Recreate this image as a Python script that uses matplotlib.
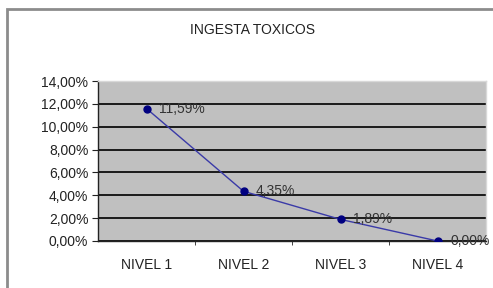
import matplotlib
matplotlib.use("Agg")
import matplotlib.pyplot as plt
from matplotlib.patches import Rectangle
from matplotlib.ticker import FuncFormatter, MultipleLocator

categories = ["NIVEL 1", "NIVEL 2", "NIVEL 3", "NIVEL 4"]
values = [11.59, 4.35, 1.89, 0.00]
labels = ["11,59%", "4,35%", "1,89%", "0,00%"]

plt.rcParams['font.family'] = ['Liberation Sans', 'DejaVu Sans']

fig = plt.figure(figsize=(4.93, 2.88), dpi=100)
fig.patch.set_facecolor('white')

# outer chart frame (runs past the right and bottom edges)
fig.patches.append(Rectangle((7 / 493, -0.05), 1.0, 1 - 9 / 288 + 0.05,
                             transform=fig.transFigure, fill=False,
                             edgecolor='#8c8c8c', linewidth=2.0))

ax = fig.add_axes([98 / 493, 47 / 288, 388 / 493, 160 / 288])
ax.set_facecolor('#c0c0c0')

x = list(range(len(categories)))
ax.plot(x, values, color='#3a3aa8', linewidth=1.0, marker='o',
        markersize=5, markerfacecolor='#000080', markeredgecolor='#000080', zorder=3)
for xi, v, lab in zip(x, values, labels):
    ax.annotate(lab, (xi, v), xytext=(9, 0), textcoords='offset points',
                va='center', ha='left', fontsize=10, color='#333333', zorder=4)

ax.set_xlim(-0.5, len(categories) - 0.5)
ax.set_ylim(0, 14)
ax.yaxis.set_major_locator(MultipleLocator(2))
ax.yaxis.set_major_formatter(FuncFormatter(lambda v, p: f"{v:.2f}%".replace('.', ',')))
ax.grid(axis='y', color='#1a1a1a', linewidth=1.4)
ax.set_axisbelow(True)

ax.set_xticks([i + 0.5 for i in range(len(categories) - 1)], minor=True)
ax.set_xticks(x)
ax.set_xticklabels(categories)
ax.tick_params(axis='x', which='major', length=0, pad=12, labelsize=10, colors='#222222')
ax.tick_params(axis='x', which='minor', length=3, direction='out', color='#222222')
ax.tick_params(axis='y', length=4, direction='out', labelsize=10, colors='#222222', pad=3)

for side in ['top', 'right']:
    ax.spines[side].set_color('#d8d8d8')
    ax.spines[side].set_linewidth(1.0)
for side in ['left', 'bottom']:
    ax.spines[side].set_color('#222222')
    ax.spines[side].set_linewidth(1.0)

fig.text(253 / 493, 1 - 30 / 288, "INGESTA TOXICOS", ha='center', va='center',
         fontsize=10, color='#222222')

fig.savefig("out.png", dpi=100)
